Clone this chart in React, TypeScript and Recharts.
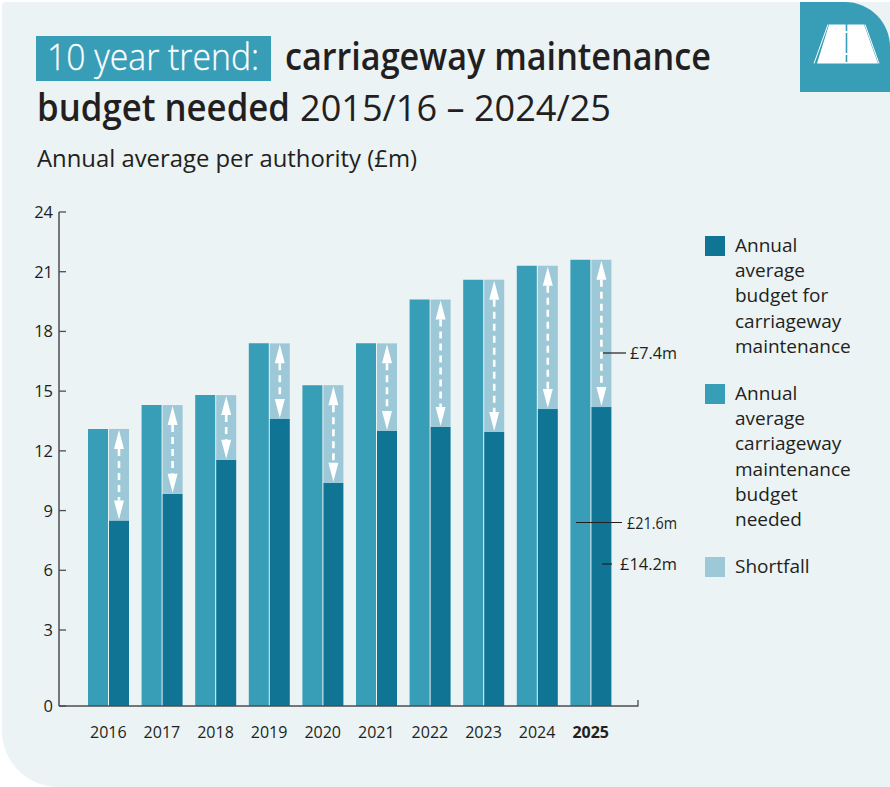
import React from 'react';
import { BarChart, Bar, XAxis, YAxis } from 'recharts';

const years = ['2016', '2017', '2018', '2019', '2020', '2021', '2022', '2023', '2024', '2025'];
const needed = [13.1, 14.3, 14.8, 17.4, 15.3, 17.4, 19.6, 20.6, 21.3, 21.6];
const budget = [8.5, 9.85, 11.55, 13.6, 10.4, 13.0, 13.2, 12.95, 14.1, 14.2];
const shortfall = [4.6, 4.45, 3.25, 3.8, 4.9, 4.4, 6.4, 7.65, 7.2, 7.4];
const yTicks = [0, 3, 6, 9, 12, 15, 18, 21, 24];

const legendItems = [
  { color: '#107595', lines: ['Annual', 'average', 'budget for', 'carriageway', 'maintenance'], swatchY: 236, firstY: 252 },
  { color: '#389db7', lines: ['Annual', 'average', 'carriageway', 'maintenance', 'budget', 'needed'], swatchY: 384, firstY: 400 },
  { color: '#9dc8d7', lines: ['Shortfall'], swatchY: 557, firstY: 573 },
];

const callouts = [
  { text: '£7.4m', x1: 603, x2: 626, y: 353, textX: 630, textW: 47 },
  { text: '£21.6m', x1: 576, x2: 622, y: 522.5, textX: 627, textW: 50 },
  { text: '£14.2m', x1: 602, x2: 612, y: 564, textX: 620, textW: 57 },
];

const INK = '#231f20';
const AXIS = '#4d4d4f';
const FONT = '"Open Sans", sans-serif';

const chartData = years.map((year, i) => ({
  year,
  needed: needed[i],
  budget: budget[i],
  shortfall: shortfall[i],
}));

// The axis is stretched between 0 and 3, every other step is even
function stretchedScale() {
  let dom = [0, 24];
  let rng = [706, 212];
  const scale: any = (v: number) => {
    const [bottom, top] = rng;
    const knee = bottom - (bottom - top) * (76 / 494);
    if (v <= 3) return bottom + (knee - bottom) * ((v - dom[0]) / 3);
    return knee + (top - knee) * ((v - 3) / (dom[1] - 3));
  };
  scale.domain = (d?: number[]) => {
    if (!d) return dom;
    dom = d;
    return scale;
  };
  scale.range = (r?: number[]) => {
    if (!r) return rng;
    rng = r;
    return scale;
  };
  scale.ticks = () => yTicks;
  scale.copy = () => stretchedScale().domain(dom).range(rng);
  return scale;
}

const YTick = ({ x, y, payload }: any) => (
  <g>
    <line x1={x + 6} x2={x + 13} y1={y} y2={y} stroke={AXIS} strokeWidth={1.3} />
    <text x={x} y={y + 6} textAnchor="end" fontSize={16.5} fontFamily={FONT} fill={INK}>
      {payload.value}
    </text>
  </g>
);

const XTick = ({ x, y, payload }: any) => (
  <text
    x={x - 0.5}
    y={y + 6}
    textAnchor="middle"
    fontSize={16}
    fontFamily={FONT}
    fontWeight={payload.value === '2025' ? 700 : 400}
    fill={INK}
  >
    {payload.value}
  </text>
);

// Shortfall segment with its white double-headed dashed arrow
const ShortfallBar = ({ x, y, width, height, fill }: any) => {
  const cx = x + width / 2;
  const top = y + 1;
  const bottom = y + height - 1;
  return (
    <g>
      <rect x={x} y={y} width={width} height={height} fill={fill} />
      <line x1={cx} x2={cx} y1={top + 19} y2={bottom - 19} stroke="#fff" strokeWidth={2.6} strokeDasharray="7 5" />
      <path d={`M${cx} ${top}L${cx + 5} ${top + 19}H${cx - 5}Z`} fill="#fff" />
      <path d={`M${cx} ${bottom}L${cx + 5} ${bottom - 19}H${cx - 5}Z`} fill="#fff" />
    </g>
  );
};

const Heading = () => (
  <svg width={890} height={200} style={{ position: 'absolute', left: 0, top: 0 }}>
    <rect x={36} y={36} width={235} height={45} fill="#389db7" />
    <text x={47} y={70} fontSize={36} fontFamily={FONT} fontWeight={300} fill="#fff" stroke="#fff" strokeWidth={0.3} textLength={212} lengthAdjust="spacingAndGlyphs">
      10 year trend:
    </text>
    <text x={285} y={70} fontSize={37} fontFamily={FONT} fontWeight={600} fill={INK} textLength={426} lengthAdjust="spacingAndGlyphs">
      carriageway maintenance
    </text>
    <text x={37} y={121} fontSize={37} fontFamily={FONT} fontWeight={600} fill={INK} textLength={253} lengthAdjust="spacingAndGlyphs">
      budget needed
    </text>
    <text x={300} y={121} fontSize={37} fontFamily={FONT} fontWeight={400} fill={INK} textLength={311} lengthAdjust="spacingAndGlyphs">
      2015/16 – 2024/25
    </text>
    <text x={37} y={167} fontSize={24} fontFamily={FONT} fontWeight={400} fill={INK} textLength={380} lengthAdjust="spacingAndGlyphs">
      Annual average per authority (£m)
    </text>

    {/* road badge, top right */}
    <path d="M800 2H845A45 45 0 0 1 890 47V92H800Z" fill="#389db7" />
    <path d="M829 24.5H864L878 63.5H817Z" fill="#fff" />
    <path d="M828 24.5L814 63.5" stroke="#fff" strokeWidth={1} />
    <path d="M865 24.5L879 63.5" stroke="#fff" strokeWidth={1} />
    <path d="M846.5 24V63" stroke="#389db7" strokeWidth={1.6} strokeDasharray="7 2 20 2" />
  </svg>
);

const Annotations = () => (
  <svg width={890} height={787} style={{ position: 'absolute', left: 0, top: 0, pointerEvents: 'none' }}>
    <line x1={638} x2={638} y1={700} y2={706.5} stroke={AXIS} strokeWidth={1.3} />
    {callouts.map((c) => (
      <g key={c.text}>
        <line x1={c.x1} x2={c.x2} y1={c.y} y2={c.y} stroke={INK} strokeWidth={1.2} />
        <text x={c.textX} y={c.y + 6} fontSize={16} fontFamily={FONT} fill={INK} textLength={c.textW} lengthAdjust="spacingAndGlyphs">
          {c.text}
        </text>
      </g>
    ))}
    {legendItems.map((item) => (
      <g key={item.color}>
        <rect x={705} y={item.swatchY} width={20} height={20} fill={item.color} />
        {item.lines.map((line, i) => (
          <text key={i} x={735} y={item.firstY + i * 25.2} fontSize={19} fontFamily={FONT} fill={INK}>
            {line}
          </text>
        ))}
      </g>
    ))}
  </svg>
);

export default function App() {
  return (
    <div style={{ position: 'absolute', left: 0, top: 0, width: 890, height: 787, overflow: 'hidden', background: '#fff' }}>
      <div
        style={{
          position: 'absolute',
          left: 2,
          top: 2,
          width: 888,
          height: 785,
          background: '#ebf3f5',
          borderRadius: '4px 0 0 56px',
        }}
      />
      <Heading />
      <div style={{ position: 'absolute', left: 0, top: 0 }}>
        <BarChart
          width={890}
          height={787}
          data={chartData}
          margin={{ top: 212, right: 252, bottom: 0, left: 0 }}
          barSize={20}
          barGap={1}
        >
          <XAxis
            dataKey="year"
            height={81}
            padding={{ left: 23, right: 20 }}
            axisLine={{ stroke: AXIS, strokeWidth: 1.5 }}
            tickLine={false}
            tickSize={0}
            tick={<XTick />}
            interval={0}
            tickMargin={26}
          />
          <YAxis
            width={59}
            type="number"
            domain={[0, 24]}
            scale={stretchedScale()}
            ticks={yTicks}
            interval={0}
            axisLine={{ stroke: AXIS, strokeWidth: 1.5 }}
            tickLine={false}
            tickSize={0}
            tickMargin={6}
            tick={<YTick />}
          />
          {/* stack ids on both groups keep the "needed" column on the left */}
          <Bar dataKey="needed" stackId="target" fill="#389db7" isAnimationActive={false} />
          <Bar dataKey="budget" stackId="funding" fill="#107595" isAnimationActive={false} />
          <Bar dataKey="shortfall" stackId="funding" fill="#9dc8d7" shape={<ShortfallBar />} isAnimationActive={false} />
        </BarChart>
      </div>
      <Annotations />
    </div>
  );
}
